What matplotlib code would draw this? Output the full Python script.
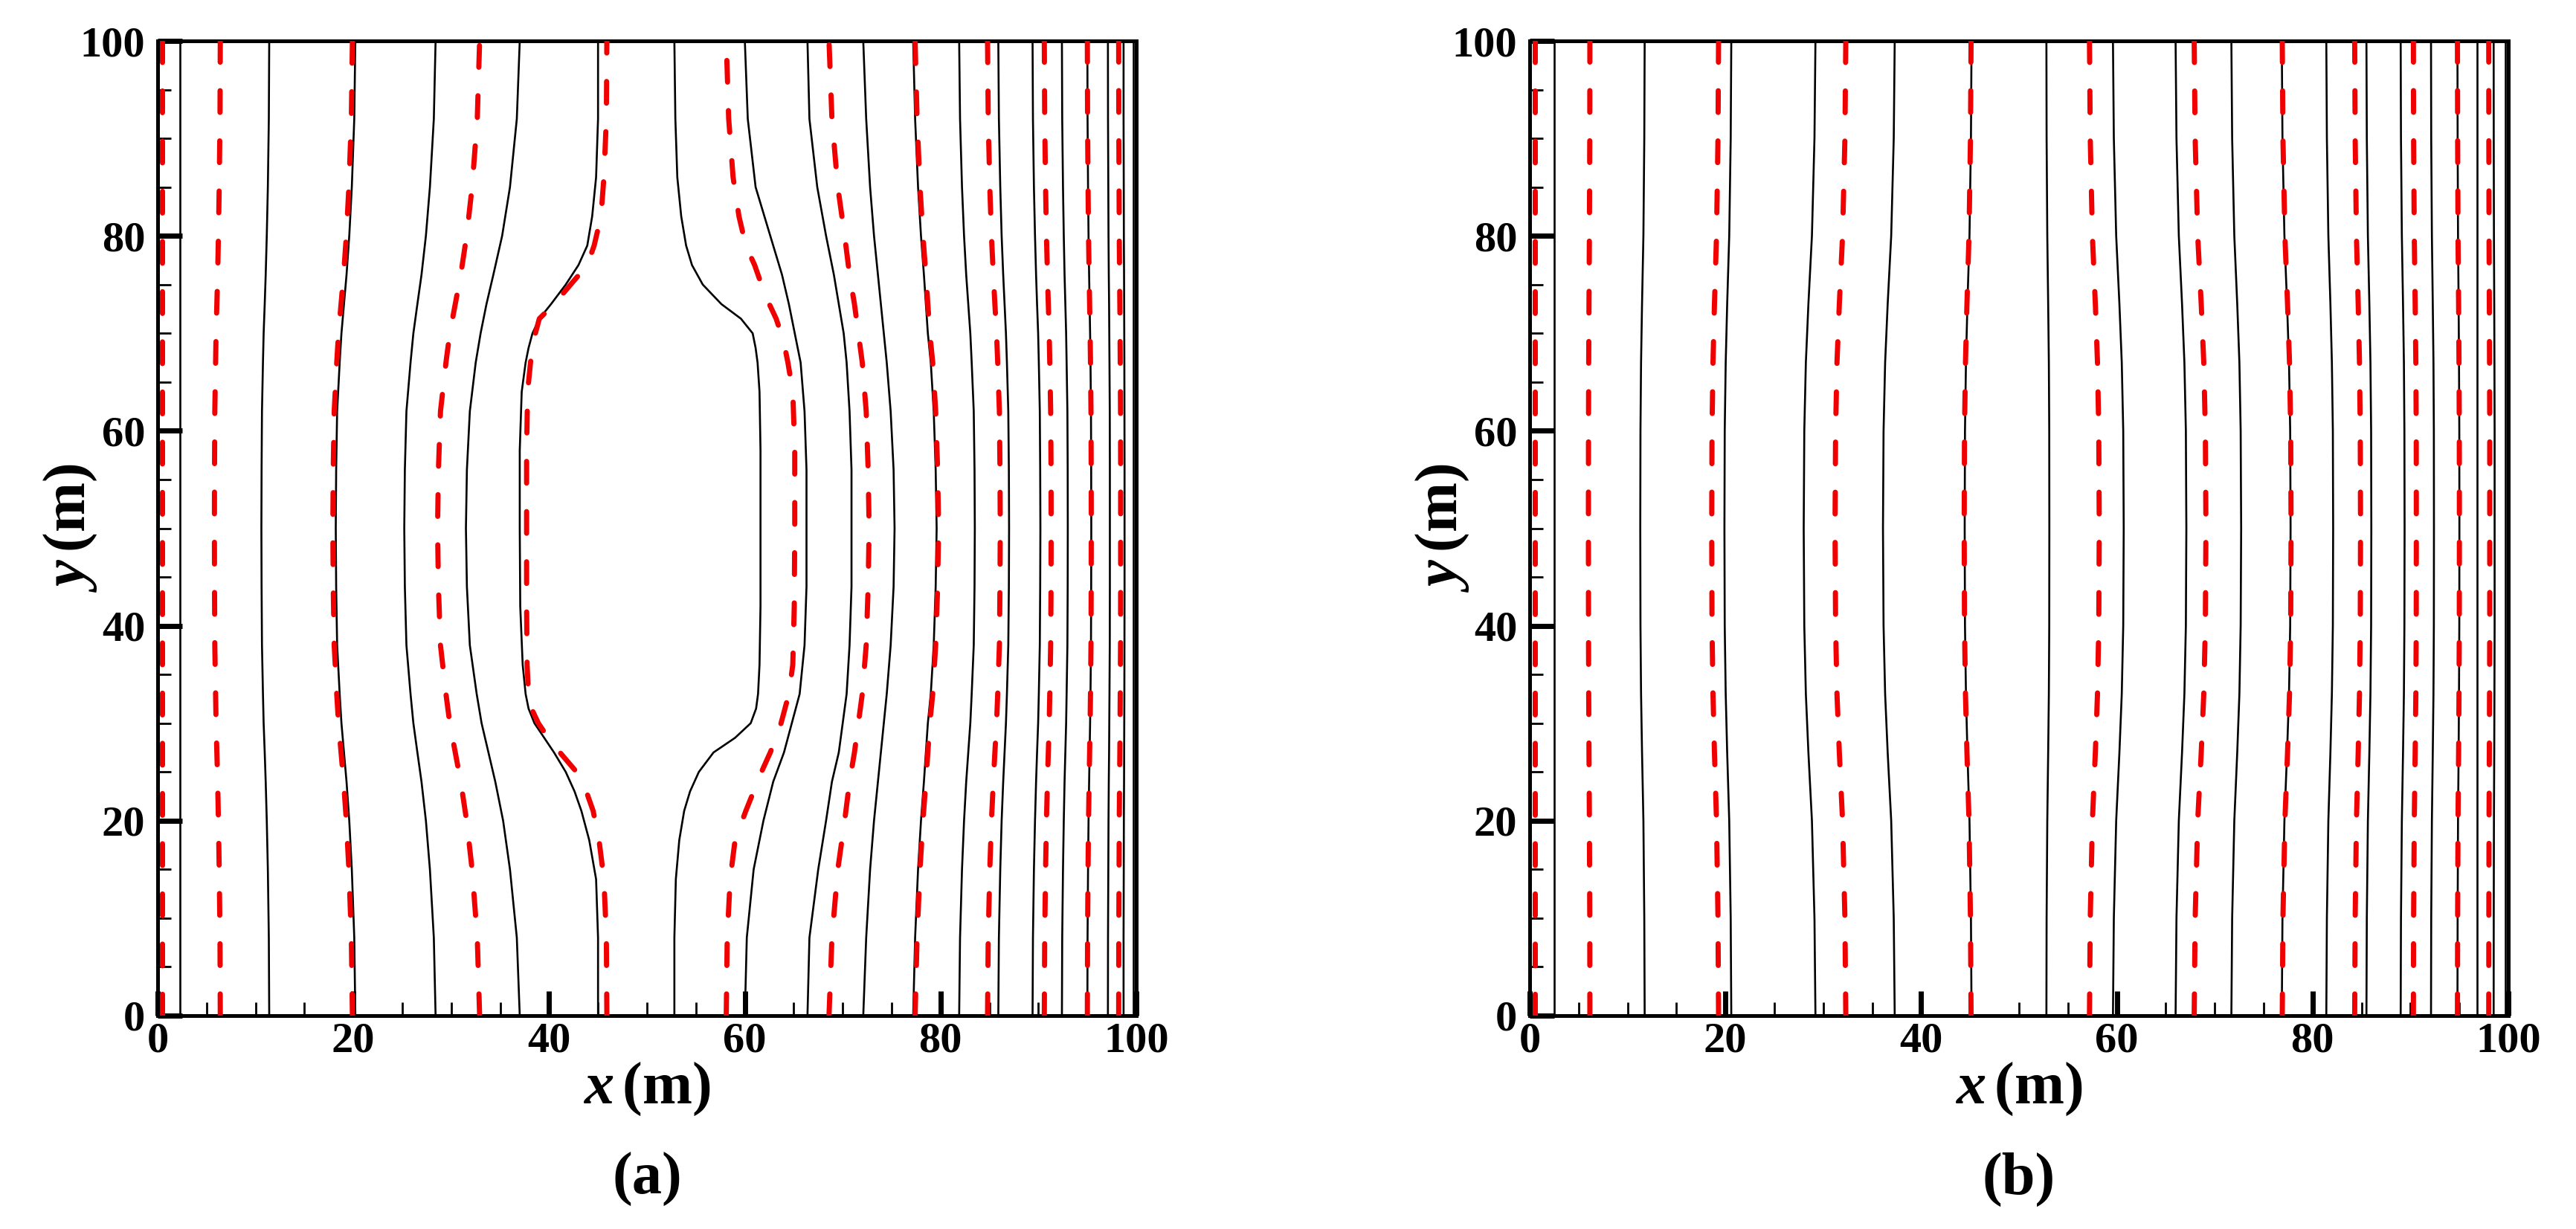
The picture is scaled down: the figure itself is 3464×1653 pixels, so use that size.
import matplotlib
matplotlib.use("Agg")
import matplotlib.pyplot as plt
from matplotlib.ticker import MultipleLocator

plt.rcParams['font.family'] = ['Liberation Serif', 'DejaVu Serif']
plt.rcParams['font.weight'] = 'bold'
plt.rcParams['mathtext.fontset'] = 'custom'
plt.rcParams['mathtext.it'] = 'Liberation Serif:italic:bold'
plt.rcParams['mathtext.rm'] = 'Liberation Serif:bold'
plt.rcParams['lines.scale_dashes'] = False

# ---------------- data: panel (a) ----------------
Y_A = [0, 8, 15, 20, 24, 27, 30, 33, 38, 44, 50, 56, 62, 67, 70, 73, 76, 80, 85, 92, 100]

A_BLACK = [
    [2.3, 2.3, 2.3, 2.3, 2.3, 2.3, 2.3, 2.3, 2.3, 2.3, 2.3, 2.3, 2.3, 2.3, 2.3, 2.3, 2.3, 2.3, 2.3, 2.3, 2.3],
    [11.4, 11.36, 11.26, 11.15, 11.04, 10.94, 10.83, 10.76, 10.66, 10.62, 10.6, 10.62, 10.66, 10.76, 10.83, 10.94, 11.04, 11.15, 11.26, 11.36, 11.4],
    [20.2, 20.09, 19.84, 19.58, 19.3, 19.04, 18.78, 18.6, 18.34, 18.24, 18.2, 18.24, 18.34, 18.6, 18.78, 19.04, 19.3, 19.58, 19.84, 20.09, 20.2],
    [28.4, 28.22, 27.82, 27.41, 26.96, 26.54, 26.13, 25.84, 25.42, 25.26, 25.2, 25.26, 25.42, 25.84, 26.13, 26.54, 26.96, 27.41, 27.82, 28.22, 28.4],
    [37.0, 36.7, 36.0, 35.3, 34.5, 33.8, 33.1, 32.6, 31.9, 31.6, 31.5, 31.6, 31.9, 32.5, 33.0, 33.6, 34.3, 35.2, 36.0, 36.7, 37.0],
    [60.0, 60.2, 60.9, 61.9, 62.9, 64.0, 64.8, 65.6, 66.1, 66.3, 66.3, 66.3, 66.1, 65.7, 65.1, 64.5, 63.8, 62.6, 61.1, 60.3, 60.0],
    [66.4, 66.6, 67.5, 68.3, 68.9, 69.6, 70.0, 70.4, 70.7, 70.9, 70.9, 70.9, 70.7, 70.4, 70.1, 69.6, 69.1, 68.3, 67.4, 66.6, 66.4],
    [72.1, 72.4, 72.8, 73.2, 73.6, 73.9, 74.2, 74.5, 74.9, 75.2, 75.3, 75.2, 74.9, 74.5, 74.2, 73.9, 73.6, 73.2, 72.8, 72.4, 72.1],
    [77.2, 77.4, 77.7, 78.0, 78.3, 78.5, 78.7, 79.0, 79.3, 79.5, 79.6, 79.5, 79.3, 79.0, 78.7, 78.5, 78.3, 78.0, 77.7, 77.4, 77.2],
    [81.9, 81.99, 82.19, 82.4, 82.62, 82.83, 83.04, 83.18, 83.39, 83.47, 83.5, 83.47, 83.39, 83.18, 83.04, 82.83, 82.62, 82.4, 82.19, 81.99, 81.9],
    [85.9, 85.96, 86.1, 86.24, 86.4, 86.54, 86.68, 86.78, 86.92, 86.98, 87.0, 86.98, 86.92, 86.78, 86.68, 86.54, 86.4, 86.24, 86.1, 85.96, 85.9],
    [89.4, 89.44, 89.54, 89.65, 89.76, 89.86, 89.97, 90.04, 90.14, 90.18, 90.2, 90.18, 90.14, 90.04, 89.97, 89.86, 89.76, 89.65, 89.54, 89.44, 89.4],
    [92.4, 92.43, 92.51, 92.59, 92.67, 92.75, 92.83, 92.88, 92.96, 92.99, 93.0, 92.99, 92.96, 92.88, 92.83, 92.75, 92.67, 92.59, 92.51, 92.43, 92.4],
    [95.0, 95.02, 95.07, 95.12, 95.18, 95.23, 95.28, 95.32, 95.37, 95.39, 95.4, 95.39, 95.37, 95.32, 95.28, 95.23, 95.18, 95.12, 95.07, 95.02, 95.0],
    [97.1, 97.11, 97.14, 97.16, 97.19, 97.22, 97.24, 97.26, 97.29, 97.3, 97.3, 97.3, 97.29, 97.26, 97.24, 97.22, 97.19, 97.16, 97.14, 97.11, 97.1],
    [98.7, 98.7, 98.72, 98.73, 98.75, 98.76, 98.77, 98.78, 98.79, 98.8, 98.8, 98.8, 98.79, 98.78, 98.77, 98.76, 98.75, 98.73, 98.72, 98.7, 98.7],
    [99.7, 99.7, 99.7, 99.7, 99.7, 99.7, 99.7, 99.7, 99.7, 99.7, 99.7, 99.7, 99.7, 99.7, 99.7, 99.7, 99.7, 99.7, 99.7, 99.7, 99.7],
]

A_RED = [
    [0.45, 0.45, 0.45, 0.45, 0.45, 0.45, 0.45, 0.45, 0.45, 0.45, 0.45, 0.45, 0.45, 0.45, 0.45, 0.45, 0.45, 0.45, 0.45, 0.45, 0.45],
    [6.4, 6.37, 6.29, 6.21, 6.13, 6.05, 5.97, 5.92, 5.84, 5.81, 5.8, 5.81, 5.84, 5.92, 5.97, 6.05, 6.13, 6.21, 6.29, 6.37, 6.4],
    [19.9, 19.79, 19.54, 19.28, 19.0, 18.74, 18.48, 18.3, 18.04, 17.94, 17.9, 17.94, 18.04, 18.3, 18.48, 18.74, 19.0, 19.28, 19.54, 19.79, 19.9],
    [32.9, 32.66, 32.13, 31.57, 30.97, 30.41, 29.85, 29.46, 28.9, 28.69, 28.6, 28.69, 28.9, 29.46, 29.85, 30.41, 30.97, 31.57, 32.13, 32.66, 32.9],
    [68.6, 68.9, 69.5, 70.2, 70.7, 71.2, 71.6, 72.0, 72.4, 72.6, 72.7, 72.6, 72.4, 72.0, 71.6, 71.2, 70.7, 70.2, 69.5, 68.9, 68.6],
    [77.4, 77.6, 77.9, 78.2, 78.5, 78.7, 78.9, 79.2, 79.5, 79.7, 79.8, 79.7, 79.5, 79.2, 78.9, 78.7, 78.5, 78.2, 77.9, 77.6, 77.4],
    [84.8, 84.87, 85.03, 85.2, 85.39, 85.55, 85.72, 85.84, 86.01, 86.07, 86.1, 86.07, 86.01, 85.84, 85.72, 85.55, 85.39, 85.2, 85.03, 84.87, 84.8],
    [90.6, 90.64, 90.73, 90.82, 90.92, 91.01, 91.1, 91.16, 91.25, 91.29, 91.3, 91.29, 91.25, 91.16, 91.1, 91.01, 90.92, 90.82, 90.73, 90.64, 90.6],
    [95.0, 95.02, 95.07, 95.12, 95.18, 95.23, 95.28, 95.32, 95.37, 95.39, 95.4, 95.39, 95.37, 95.32, 95.28, 95.23, 95.18, 95.12, 95.07, 95.02, 95.0],
    [98.2, 98.21, 98.24, 98.26, 98.29, 98.32, 98.34, 98.36, 98.39, 98.4, 98.4, 98.4, 98.39, 98.36, 98.34, 98.32, 98.29, 98.26, 98.24, 98.21, 98.2],
]

# inner contours around the central region (finer sampling in y)
Y_CORE = [0, 8, 14, 18, 21, 23, 25, 27, 28.5, 30, 31.5, 33, 36, 42, 50,
          58, 64, 67, 68.5, 70, 71.5, 73, 75, 77, 79, 82, 86, 92, 100]

A_BLACK_CORE = [
    [45.0, 45.0, 44.8, 44.1, 43.3, 42.6, 41.7, 40.5, 39.5, 38.5, 37.9, 37.6, 37.3, 37.05, 37.0,
     37.0, 37.2, 37.6, 37.9, 38.3, 39.0, 40.2, 41.7, 43.0, 43.9, 44.4, 44.8, 45.0, 45.0],
    [52.8, 52.8, 52.95, 53.3, 53.8, 54.4, 55.3, 56.8, 59.0, 60.6, 61.15, 61.35, 61.5, 61.6, 61.6,
     61.6, 61.5, 61.3, 61.1, 60.8, 59.6, 57.6, 55.7, 54.6, 54.0, 53.5, 53.1, 52.9, 52.8],
]

A_RED_CORE = [
    [45.9, 45.85, 45.6, 45.1, 44.5, 43.8, 42.8, 41.1, 39.9, 38.9, 38.2, 37.9, 37.75, 37.7, 37.7,
     37.7, 37.8, 38.1, 38.3, 38.6, 39.0, 40.5, 42.2, 43.9, 44.6, 45.3, 45.6, 45.85, 45.9],
    [58.1, 58.2, 58.5, 59.0, 60.1, 60.9, 61.7, 62.6, 63.2, 63.7, 64.1, 64.5, 64.9, 65.05, 65.1,
     65.1, 64.9, 64.4, 64.1, 63.7, 63.2, 62.5, 61.7, 61.0, 60.1, 59.4, 58.8, 58.35, 58.1],
]

# ---------------- data: panel (b) ----------------
Y_B = [0, 10, 20, 27, 33, 40, 50, 60, 67, 73, 80, 90, 100]

B_BLACK = [
    [2.5, 2.5, 2.5, 2.5, 2.5, 2.5, 2.5, 2.5, 2.5, 2.5, 2.5, 2.5, 2.5],
    [11.75, 11.71, 11.62, 11.48, 11.38, 11.32, 11.3, 11.32, 11.38, 11.48, 11.62, 11.71, 11.75],
    [20.6, 20.54, 20.39, 20.18, 20.03, 19.93, 19.9, 19.93, 20.03, 20.18, 20.39, 20.54, 20.6],
    [29.2, 29.1, 28.84, 28.48, 28.22, 28.06, 28.0, 28.06, 28.22, 28.48, 28.84, 29.1, 29.2],
    [37.3, 37.2, 36.94, 36.58, 36.32, 36.16, 36.1, 36.16, 36.32, 36.58, 36.94, 37.2, 37.3],
    [45.15, 45.09, 44.94, 44.73, 44.58, 44.48, 44.45, 44.48, 44.58, 44.73, 44.94, 45.09, 45.15],
    [52.8, 52.82, 52.89, 52.98, 53.05, 53.09, 53.1, 53.09, 53.05, 52.98, 52.89, 52.82, 52.8],
    [59.6, 59.69, 59.93, 60.26, 60.5, 60.65, 60.7, 60.65, 60.5, 60.26, 59.93, 59.69, 59.6],
    [66.0, 66.09, 66.33, 66.66, 66.9, 67.05, 67.1, 67.05, 66.9, 66.66, 66.33, 66.09, 66.0],
    [71.7, 71.78, 72.0, 72.3, 72.52, 72.65, 72.7, 72.65, 72.52, 72.3, 72.0, 71.78, 71.7],
    [76.85, 76.92, 77.12, 77.39, 77.59, 77.71, 77.75, 77.71, 77.59, 77.39, 77.12, 76.92, 76.85],
    [81.4, 81.46, 81.61, 81.82, 81.97, 82.07, 82.1, 82.07, 81.97, 81.82, 81.61, 81.46, 81.4],
    [85.5, 85.54, 85.65, 85.8, 85.91, 85.98, 86.0, 85.98, 85.91, 85.8, 85.65, 85.54, 85.5],
    [89.0, 89.03, 89.12, 89.24, 89.33, 89.38, 89.4, 89.38, 89.33, 89.24, 89.12, 89.03, 89.0],
    [92.1, 92.12, 92.19, 92.28, 92.35, 92.39, 92.4, 92.39, 92.35, 92.28, 92.19, 92.12, 92.1],
    [94.8, 94.82, 94.86, 94.92, 94.96, 94.99, 95.0, 94.99, 94.96, 94.92, 94.86, 94.82, 94.8],
    [96.8, 96.8, 96.8, 96.8, 96.8, 96.8, 96.8, 96.8, 96.8, 96.8, 96.8, 96.8, 96.8],
    [98.5, 98.51, 98.53, 98.56, 98.58, 98.6, 98.6, 98.6, 98.58, 98.56, 98.53, 98.51, 98.5],
    [99.7, 99.7, 99.7, 99.7, 99.7, 99.7, 99.7, 99.7, 99.7, 99.7, 99.7, 99.7, 99.7],
]

B_RED = [
    [0.5, 0.5, 0.5, 0.5, 0.5, 0.5, 0.5, 0.5, 0.5, 0.5, 0.5, 0.5, 0.5],
    [6.15, 6.14, 6.1, 6.06, 6.03, 6.01, 6.0, 6.01, 6.03, 6.06, 6.1, 6.14, 6.15],
    [19.3, 19.24, 19.09, 18.88, 18.73, 18.63, 18.6, 18.63, 18.73, 18.88, 19.09, 19.24, 19.3],
    [32.3, 32.21, 31.97, 31.64, 31.4, 31.26, 31.2, 31.26, 31.4, 31.64, 31.97, 32.21, 32.3],
    [45.1, 45.04, 44.89, 44.68, 44.53, 44.43, 44.4, 44.43, 44.53, 44.68, 44.89, 45.04, 45.1],
    [57.2, 57.28, 57.5, 57.8, 58.02, 58.15, 58.2, 58.15, 58.02, 57.8, 57.5, 57.28, 57.2],
    [67.9, 68.0, 68.26, 68.62, 68.88, 69.04, 69.1, 69.04, 68.88, 68.62, 68.26, 68.0, 67.9],
    [76.9, 76.97, 77.17, 77.44, 77.64, 77.76, 77.8, 77.76, 77.64, 77.44, 77.17, 76.97, 76.9],
    [84.3, 84.35, 84.48, 84.66, 84.79, 84.87, 84.9, 84.87, 84.79, 84.66, 84.48, 84.35, 84.3],
    [90.3, 90.32, 90.39, 90.48, 90.55, 90.59, 90.6, 90.59, 90.55, 90.48, 90.39, 90.32, 90.3],
    [94.8, 94.82, 94.86, 94.92, 94.96, 94.99, 95.0, 94.99, 94.96, 94.92, 94.86, 94.82, 94.8],
    [98.0, 98.01, 98.03, 98.06, 98.08, 98.1, 98.1, 98.1, 98.08, 98.06, 98.03, 98.01, 98.0],
]

MAJOR_TICKS = [0, 20, 40, 60, 80, 100]
PANEL_LABELS = ['(a)', '(b)']

# ---------------- figure ----------------
W, H = 3464, 1653
fig = plt.figure(figsize=(W / 100, H / 100), dpi=100)

AX_LEFTS = [212, 2057]
AX_TOP, AX_BOTTOM, AX_W = 55, 1366, 1316

BLACK_KW = dict(color='black', lw=1.9, solid_joinstyle='round', solid_capstyle='round', zorder=2)
RED_KW = dict(color='#f00000', lw=5, linestyle=(0, (21, 27.6)), dash_capstyle='round', zorder=3)


def style_axes(ax):
    ax.set_xlim(0, 100)
    ax.set_ylim(0, 100)
    ax.set_xticks(MAJOR_TICKS)
    ax.set_yticks(MAJOR_TICKS)
    ax.xaxis.set_minor_locator(MultipleLocator(5))
    ax.yaxis.set_minor_locator(MultipleLocator(5))
    ax.tick_params(which='major', direction='in', length=24, width=5,
                   top=False, right=False, labelsize=42, colors='black')
    ax.tick_params(which='minor', direction='in', length=13, width=2,
                   top=False, right=False)
    ax.tick_params(axis='x', which='major', pad=6)
    ax.tick_params(axis='y', which='major', pad=12)
    for lab in ax.get_xticklabels() + ax.get_yticklabels():
        lab.set_fontweight('bold')
    for sp in ax.spines.values():
        sp.set_linewidth(3.6)
        sp.set_color('black')


panels = [
    [(Y_A, A_BLACK, A_RED), (Y_CORE, A_BLACK_CORE, A_RED_CORE)],
    [(Y_B, B_BLACK, B_RED)],
]
for i, groups in enumerate(panels):
    left = AX_LEFTS[i]
    ax = fig.add_axes([left / W, (H - AX_BOTTOM) / H, AX_W / W, (AX_BOTTOM - AX_TOP) / H])
    for yy, blacks, reds in groups:
        for xs in blacks:
            ax.plot(xs, yy, **BLACK_KW)
        for xs in reds:
            ax.plot(xs, yy, **RED_KW)
    style_axes(ax)

    cx = (left + AX_W / 2) / W
    fig.text(cx, 1 - 1465 / H, r'$x\,$(m)', fontsize=58, fontweight='bold',
             ha='center', va='center')
    fig.text((left - 117) / W, 1 - 710 / H, r'$y\,$(m)', fontsize=58, fontweight='bold',
             ha='center', va='center', rotation=90)
    fig.text(cx, 1 - 1586 / H, PANEL_LABELS[i], fontsize=58, fontweight='bold',
             ha='center', va='center')

fig.savefig('out.png', dpi=100)
